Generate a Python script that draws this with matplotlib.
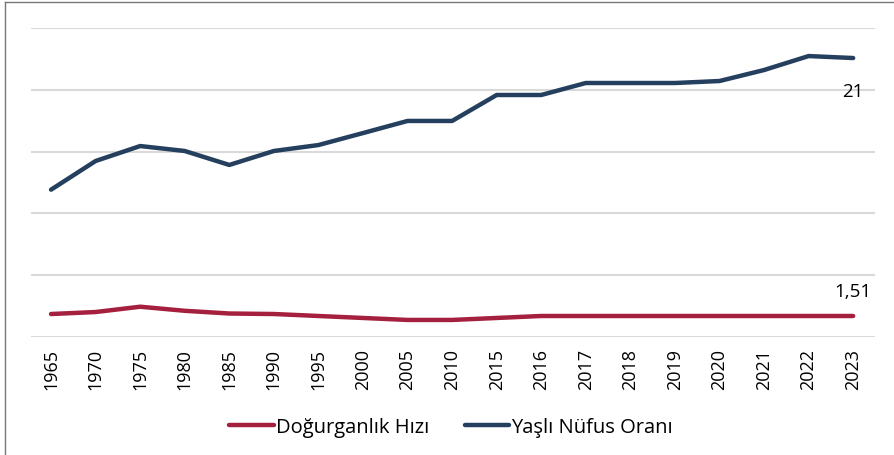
import matplotlib
matplotlib.use('Agg')
import matplotlib.pyplot as plt
from matplotlib.lines import Line2D

plt.rcParams['font.family'] = ['Open Sans', 'DejaVu Sans']

years = ['1965', '1970', '1975', '1980', '1985', '1990', '1995', '2000', '2005',
         '2010', '2015', '2016', '2017', '2018', '2019', '2020', '2021', '2022', '2023']

# values, in the chart's own axis units (0-25 grid)
dogurganlik = [1.86, 2.02, 2.45, 2.12, 1.90, 1.86, 1.70, 1.54, 1.38, 1.38,
               1.54, 1.70, 1.70, 1.70, 1.70, 1.70, 1.70, 1.70, 1.70]
yasli_nufus = [11.92, 14.24, 15.45, 15.05, 13.92, 15.05, 15.53, 16.50, 17.48, 17.48,
               19.58, 19.58, 20.55, 20.55, 20.55, 20.71, 21.60, 22.73, 22.57]

label_dog = '1,51'
label_yasli = '21'

RED = '#A51F3F'
BLUE = '#24405E'

W, H = 895, 456
fig = plt.figure(figsize=(W / 100, H / 100), dpi=100)
ax = fig.add_axes([31 / W, (H - 338) / H, (875 - 31) / W, (338 - 29) / H])

x = list(range(len(years)))
ax.plot(x, dogurganlik, color=RED, lw=3.2, solid_capstyle='round',
        solid_joinstyle='round', label='Doğurganlık Hızı')
ax.plot(x, yasli_nufus, color=BLUE, lw=3.2, solid_capstyle='round',
        solid_joinstyle='round', label='Yaşlı Nüfus Oranı')

ax.set_xlim(-0.45, len(years) - 1 + 0.49)
ax.set_ylim(0, 25)
ax.set_yticks([0, 5, 10, 15, 20, 25])
ax.yaxis.grid(True, color='#d9d9d9', lw=1.5)
ax.set_axisbelow(True)
ax.tick_params(axis='y', left=False, labelleft=False)
ax.set_xticks(x)
ax.set_xticklabels(years, rotation=90, fontsize=13)
ax.tick_params(axis='x', length=0, pad=8)
for s in ax.spines.values():
    s.set_visible(False)

ax.annotate(label_yasli, (x[-1], yasli_nufus[-1]), xytext=(0, -33),
            textcoords='offset pixels', ha='center', va='center', fontsize=13.5)
ax.annotate(label_dog, (x[-1], dogurganlik[-1]), xytext=(0, 25),
            textcoords='offset pixels', ha='center', va='center', fontsize=13.5)

fig.legend(loc='center', bbox_to_anchor=(0.504, 0.061), ncol=2, frameon=False,
           fontsize=14.5, handlelength=2.2, handletextpad=0.12, columnspacing=1.75)

# frame lines of the original screenshot
fig.add_artist(Line2D([5 / W, 5 / W], [0, 1 - 3 / H], color='#777777', lw=1))
fig.add_artist(Line2D([5 / W, 1], [1 - 3 / H, 1 - 3 / H], color='#777777', lw=1))

fig.savefig('out.png', dpi=100)
